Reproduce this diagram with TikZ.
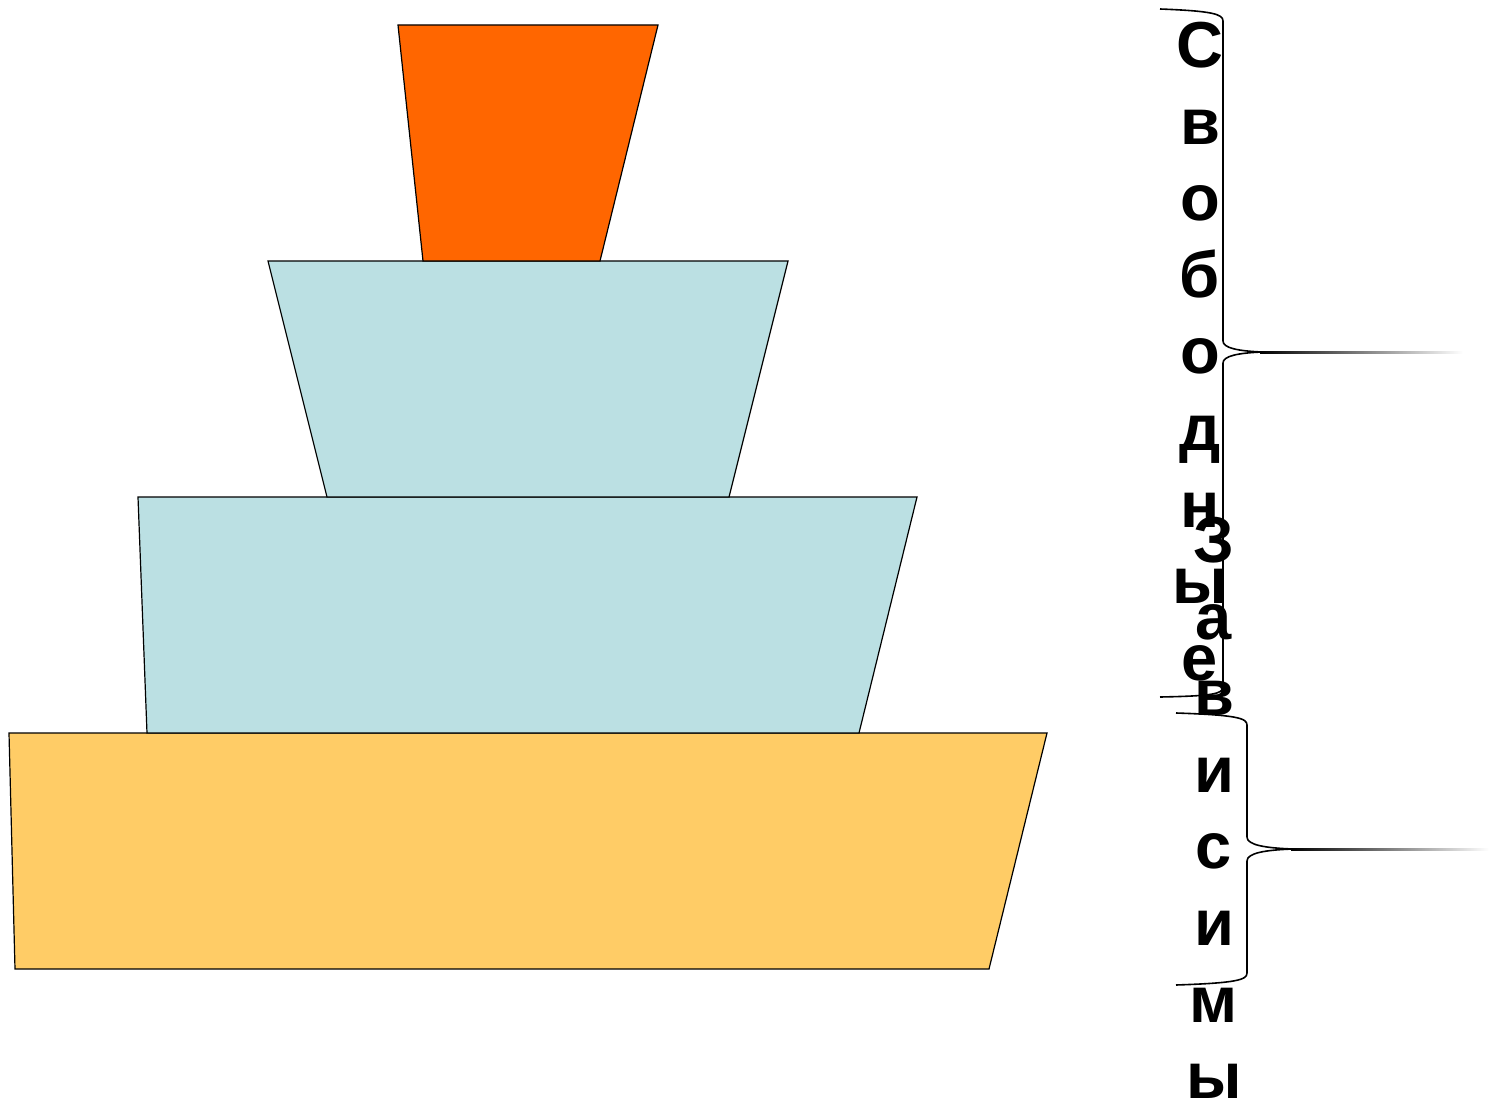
\documentclass[tikz,border=0pt]{standalone}
\usepackage{fontspec}
\setmainfont{Liberation Sans}
\usepackage{tikz}
\usetikzlibrary{positioning}
\definecolor{Ognen}{RGB}{255,102,0}
\definecolor{Goluboj}{RGB}{187,224,227}
\definecolor{Zheltyj}{RGB}{255,204,102}
\tikzset{
  tier/.style={draw=black, line width=1.2pt},
  word/.style={align=center, inner sep=0pt, anchor=north,
    font=\fontsize{65}{76.6}\selectfont\bfseries},
  brace/.style={draw=black, line width=1.6pt}
}

\begin{document}
\begin{tikzpicture}[x=1pt,y=-1pt]
\useasboundingbox (0,0) rectangle (1489,1105);
% pyramid tiers
\draw[tier,fill=Zheltyj] (9,733) -- (1047,733) -- (989,969) -- (15,969) -- cycle;
\draw[tier,fill=Goluboj] (138,497) -- (917,497) -- (859,733) -- (147,733) -- cycle;
\draw[tier,fill=Goluboj] (268,261) -- (788,261) -- (729,497) -- (327,497) -- cycle;
\draw[tier,fill=Ognen] (398,25) -- (658,25) -- (600,261) -- (423,261) -- cycle;
%
% braces
\draw[brace] (1160,9) .. controls (1212,11) and (1223,14) .. (1223,21) -- (1223,341)
  .. controls (1223,348) and (1238,351) .. (1262,352)
  .. controls (1238,353) and (1223,356) .. (1223,363) -- (1223,687)
  .. controls (1223,694) and (1212,696) .. (1160,697);
\shade[left color=black,right color=white] (1260,351) rectangle (1463,353);
\draw[brace] (1176,713) .. controls (1236,715) and (1247,718) .. (1247,725) -- (1247,837)
  .. controls (1247,845) and (1265,848) .. (1293,849)
  .. controls (1265,850) and (1247,853) .. (1247,861) -- (1247,973)
  .. controls (1247,980) and (1236,983) .. (1176,985);
\shade[left color=black,right color=white] (1291,848) rectangle (1489,850);
%
% vertical words
\node[word] (svob) at (1200,22) {С\\в\\о\\б\\о\\д\\н\\ы\\е};
\node[word] (zavis) at (1214,517) {З\\а\\в\\и\\с\\и\\м\\ы};
\end{tikzpicture}
\end{document}
